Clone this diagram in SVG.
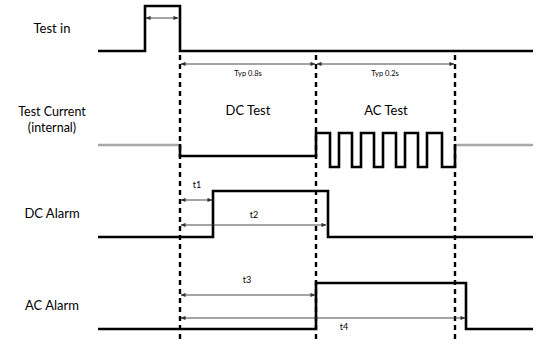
<svg xmlns="http://www.w3.org/2000/svg" width="541" height="345" viewBox="0 0 541 345">
<defs>
<marker id="ah" viewBox="0 0 6 6" refX="5.5" refY="3" markerWidth="5" markerHeight="5" orient="auto-start-reverse" markerUnits="userSpaceOnUse"><path d="M0,0.5 L6,3 L0,5.5 z" fill="#333"/></marker>
<style>
.sig{fill:none;stroke:#000;stroke-width:2.6;stroke-linejoin:miter}
.gray{fill:none;stroke:#a8a8a8;stroke-width:2.6}
.dash{fill:none;stroke:#000;stroke-width:2.4;stroke-dasharray:5 4}
.dim{fill:none;stroke:#333;stroke-width:0.9;marker-start:url(#ah);marker-end:url(#ah)}
.lbl{font-family:"Lato","Open Sans",sans-serif;font-size:13px;fill:#000;text-anchor:middle}
.lbl2{font-family:"Lato","Open Sans",sans-serif;font-size:12.5px;fill:#000;text-anchor:middle}
.big{font-family:"Lato","Open Sans",sans-serif;font-size:13px;fill:#000;text-anchor:middle}
.sm{font-family:"Lato","Open Sans",sans-serif;font-size:7.5px;fill:#000;text-anchor:middle}
.tl{font-family:"Lato","Open Sans",sans-serif;font-size:9px;fill:#000;text-anchor:middle}
</style>
</defs>
<g id="labels">
<text class="lbl" x="52" y="33">Test in</text>
<text class="lbl2" x="52" y="116">Test Current</text>
<text class="lbl2" x="52" y="131.5">(internal)</text>
<text class="lbl" x="52" y="218">DC Alarm</text>
<text class="lbl" x="52" y="310">AC Alarm</text>
</g>
<g id="test-in">
<path class="sig" d="M98,51 H145 V6 H180 V51 H533"/>
</g>
<g id="test-current">
<path class="gray" d="M98,145 H180"/>
<path class="gray" d="M455,145 H533"/>
<path class="sig" d="M180,144 V156 H316 V133 H330 V167 H339 V133 H352 V167 H361 V133 H374 V167 H383 V133 H396 V167 H405 V133 H418 V167 H427 V133 H442 V167 H455 V144"/>
<text class="big" x="248" y="115">DC Test</text>
<text class="big" x="386" y="115">AC Test</text>
</g>
<g id="dc-alarm">
<path class="sig" d="M98,237 H213 V191 H328 V237 H533"/>
</g>
<g id="ac-alarm">
<path class="sig" d="M98,329 H316 V283 H466 V329 H533"/>
</g>
<g id="connectors">
<path class="dash" d="M180,55 V342"/>
<path class="dash" d="M316,55 V342"/>
<path class="dash" d="M455,55 V342"/>
<path class="dim" d="M146,18 H178"/>
<path class="dim" d="M181,64 H315"/>
<path class="dim" d="M317,64 H454"/>
<path class="dim" d="M181,200 H212"/>
<path class="dim" d="M181,225 H326"/>
<path class="dim" d="M181,295 H315"/>
<path class="dim" d="M181,318 H465"/>
<text class="sm" x="248" y="76">Typ 0.8s</text>
<text class="sm" x="385" y="76">Typ 0.2s</text>
<text class="tl" x="197" y="188">t1</text>
<text class="tl" x="254" y="218">t2</text>
<text class="tl" x="247" y="283">t3</text>
<text class="tl" x="344" y="330">t4</text>
</g>
</svg>
